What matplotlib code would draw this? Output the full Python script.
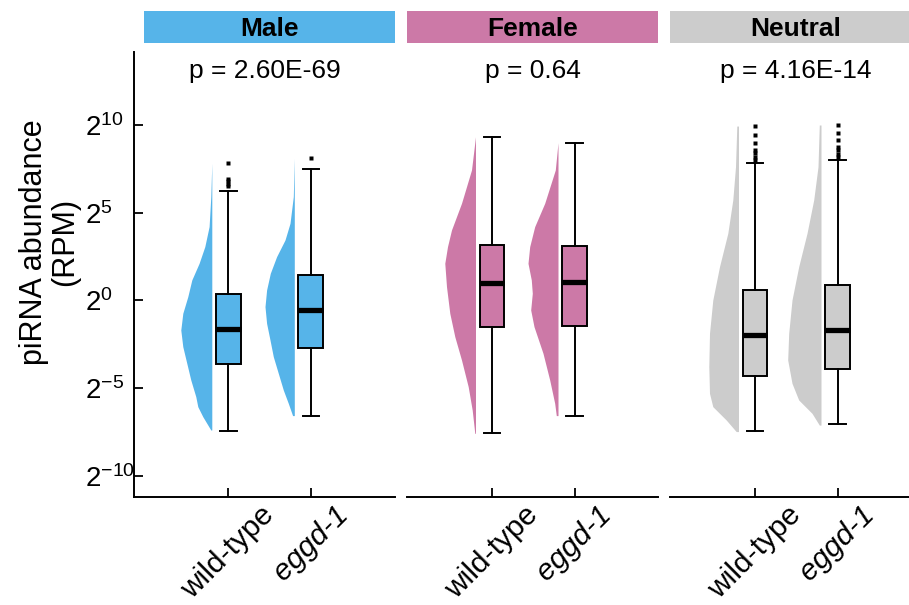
import numpy as np
import matplotlib
matplotlib.use("Agg")
import matplotlib.pyplot as plt
from matplotlib.ticker import NullLocator

plt.rcParams['font.family'] = ['Liberation Sans', 'DejaVu Sans']
plt.rcParams['mathtext.fontset'] = 'custom'
plt.rcParams['mathtext.rm'] = 'Liberation Sans'
plt.rcParams['mathtext.it'] = 'Liberation Sans:italic'
plt.rcParams['mathtext.bf'] = 'Liberation Sans:bold'

# --- data (log2 RPM) ---
groups = ["Male", "Female", "Neutral"]
colors = ["#56B4E9", "#CC79A7", "#CCCCCC"]
pvals = ["p = 2.60E-69", "p = 0.64", "p = 4.16E-14"]
genotypes = ["wild-type", "eggd-1"]

# box stats, [wild-type, eggd-1] per group
med = [[-1.62, -0.54], [0.98, 1.05], [-1.98, -1.68]]
q1 = [[-3.60, -2.69], [-1.49, -1.45], [-4.30, -3.90]]
q3 = [[0.35, 1.47], [3.16, 3.12], [0.60, 0.88]]
whislo = [[-7.42, -6.56], [-7.57, -6.56], [-7.42, -7.04]]
whishi = [[6.24, 7.48], [9.33, 9.00], [7.82, 8.00]]
fliers = [[[7.82, 6.95, 6.80, 6.65, 6.50], [8.14]],
          [[], []],
          [[9.94, 9.43, 8.96, 8.58, 8.40, 8.20, 8.00],
           [10.0, 9.53, 9.15, 8.76, 8.55, 8.35, 8.15]]]

# half-violin outlines: log2 level and relative density
male_wt_y = [7.82, 5.92, 4.21, 3.07, 2.12, 1.17, 0.22, -0.73, -1.68, -2.63, -3.58, -4.53, -5.48, -6.05, -6.62, -7.38]
male_wt_d = [0, 1, 2.7, 7, 12.7, 20, 24, 29, 31, 29, 25, 21, 16, 14, 9, 1]
male_eg_y = [8.10, 5.92, 4.40, 3.45, 2.50, 1.55, 0.60, -0.35, -1.30, -2.25, -3.20, -4.15, -5.10, -5.86, -6.56]
male_eg_d = [0, 1, 4.3, 9.3, 17.7, 24, 27.7, 29.3, 27.7, 24.3, 21, 16, 11, 6, 1.7]
fem_wt_y = [9.33, 7.44, 5.54, 4.02, 3.07, 2.12, 0.79, -0.73, -2.06, -3.39, -4.91, -6.24, -7.57]
fem_wt_d = [0, 4, 14, 24, 28, 30.7, 29, 25.7, 20.7, 14, 7.3, 3.3, 0.7]
fem_eg_y = [8.99, 7.44, 5.54, 4.21, 3.07, 2.12, 1.17, 0.41, -0.54, -1.49, -3.01, -4.53, -5.86, -6.56]
fem_eg_d = [0, 2.7, 13.3, 23.3, 28.3, 30, 26.7, 25.7, 27.3, 24, 15, 8.3, 3.3, 1.7]
neu_wt_y = [9.94, 7.62, 5.73, 3.83, 1.93, 0.03, -1.87, -3.77, -5.29, -6.05, -6.81, -7.47]
neu_wt_d = [1.7, 3, 5.7, 10.7, 19, 25.7, 29, 29.7, 29, 25.7, 12.3, 2.3]
neu_eg_y = [10.0, 7.62, 5.73, 3.83, 1.93, 0.03, -1.87, -3.39, -4.72, -5.67, -6.43, -7.10]
neu_eg_d = [1.7, 3, 7.3, 14, 22.3, 29, 32.3, 33.3, 29, 22.3, 9, 1.7]

violins = [[(male_wt_y, male_wt_d), (male_eg_y, male_eg_d)],
           [(fem_wt_y, fem_wt_d), (fem_eg_y, fem_eg_d)],
           [(neu_wt_y, neu_wt_d), (neu_eg_y, neu_eg_d)]]

ytick_exp = [-10, -5, 0, 5, 10]

# --- layout (pixels) ---
W, H = 909, 605
fig = plt.figure(figsize=(W / 100, H / 100), dpi=100)


def rect(x0, y0, x1, y1):
    return [x0 / W, 1 - y1 / H, (x1 - x0) / W, (y1 - y0) / H]


UNIT = 82.5          # px per x unit
VSCALE = 1 / UNIT    # violin density -> x units
AX_TOP, AX_BOT = 52, 496.5
panel_x = [(134, 395), (407, 658), (670, 921)]
tick_off = [94.3, 85, 85]
header_x = [(144, 395), (407, 658), (670, 921)]
pos = np.array([1, 2])

for i in range(3):
    x0, x1 = panel_x[i]
    c = colors[i]
    ax = fig.add_axes(rect(x0, AX_TOP, x1, AX_BOT))
    ax.set_yscale('log', base=2)

    # half violins to the left of each box
    for j in range(2):
        vy, vd = violins[i][j]
        right = pos[j] - 0.2
        ax.fill_betweenx(2.0 ** np.array(vy), right - np.array(vd) * VSCALE, right,
                         color=c, linewidth=0)

    stats = []
    for j in range(2):
        stats.append(dict(med=2.0 ** med[i][j], q1=2.0 ** q1[i][j], q3=2.0 ** q3[i][j],
                          whislo=2.0 ** whislo[i][j], whishi=2.0 ** whishi[i][j],
                          fliers=2.0 ** np.array(fliers[i][j])))
    ax.bxp(stats, positions=pos, widths=0.3, capwidths=0.2, patch_artist=True,
           boxprops=dict(facecolor=c, edgecolor='black', linewidth=1.4),
           medianprops=dict(color='black', linewidth=3.8, solid_capstyle='butt'),
           whiskerprops=dict(color='black', linewidth=1.4),
           capprops=dict(color='black', linewidth=1.4),
           flierprops=dict(marker='s', markersize=2.8, markerfacecolor='black',
                           markeredgecolor='none'))

    left = 1 - tick_off[i] / UNIT
    ax.set_xlim(left, left + (x1 - x0) / UNIT)
    ax.set_ylim(2.0 ** -11.17, 2.0 ** 14.16)

    ax.set_xticks(pos)
    ax.set_xticklabels(genotypes, rotation=45, fontsize=21.5)
    ax.get_xticklabels()[1].set_fontstyle('italic')
    ax.tick_params(axis='x', direction='in', length=6.5, width=1.3, pad=3)

    for s in ['top', 'right']:
        ax.spines[s].set_visible(False)
    ax.spines['bottom'].set_linewidth(1.4)
    ax.yaxis.set_minor_locator(NullLocator())
    if i == 0:
        ax.spines['left'].set_linewidth(1.4)
        ax.set_yticks([2.0 ** e for e in ytick_exp])
        ax.set_yticklabels(["$2^{%d}$" % e for e in ytick_exp], fontsize=20)
        plt.setp(ax.get_yticklabels(), ha='left')
        ax.tick_params(axis='y', direction='in', length=6.5, width=1.3, pad=35.5)
    else:
        ax.spines['left'].set_visible(False)
        ax.set_yticks([])

    ax.text(0.5, (AX_BOT - 78) / (AX_BOT - AX_TOP), pvals[i], transform=ax.transAxes,
            ha='center', va='baseline', fontsize=19)

    # coloured header strip
    hx0, hx1 = header_x[i]
    hax = fig.add_axes(rect(hx0, 11, hx1, 43.3))
    hax.set_facecolor(c)
    hax.set_xticks([])
    hax.set_yticks([])
    for s in hax.spines.values():
        s.set_visible(False)
    hax.text(0.5, (43.3 - 36) / 32.3, groups[i], ha='center', va='baseline',
             fontsize=19, fontweight='bold', transform=hax.transAxes)

fig.text(50 / W, 1 - 242 / H, "piRNA abundance\n(RPM)", rotation=90, ha='center',
         va='center', multialignment='center', fontsize=22, linespacing=1.05)

fig.savefig("out.png", dpi=100)
